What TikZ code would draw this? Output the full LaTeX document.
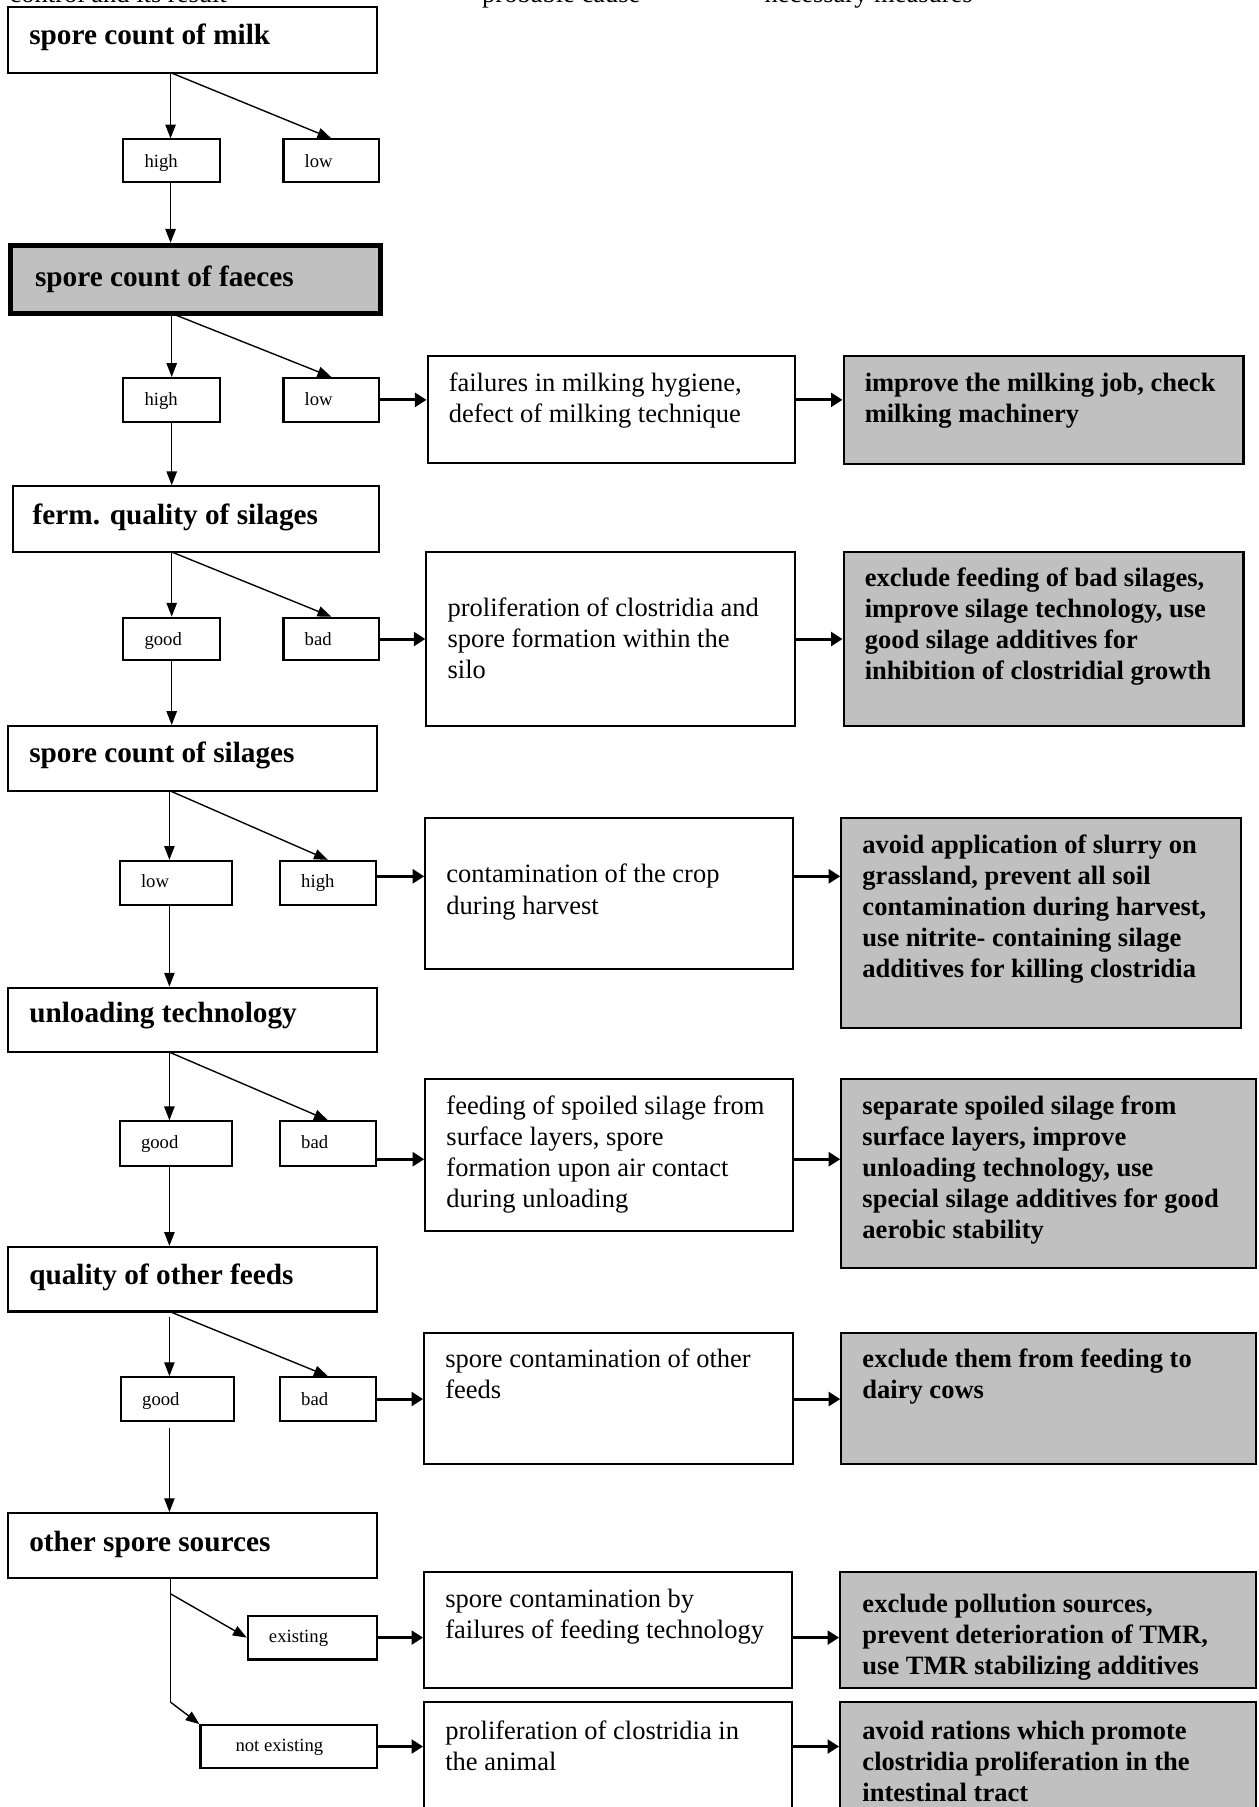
\documentclass[tikz,border=0pt]{standalone}
\usepackage{fontspec}
\setmainfont{Liberation Serif}
\usetikzlibrary{arrows.meta,fit}
\definecolor{boxgrey}{RGB}{192,192,192}
\tikzset{
 box/.style={draw, line width=0.9pt, inner sep=0pt, fill=white},
 gbox/.style={box, fill=boxgrey},
 thickbox/.style={draw, line width=2.3pt, inner sep=0pt, fill=boxgrey},
 hdr/.style={font=\fontsize{12.7}{15}\selectfont\bfseries, anchor=base west, inner sep=0pt},
 body/.style={font=\fontsize{11.5}{13.5}\selectfont, anchor=base west, inner sep=0pt, align=left},
 bbody/.style={font=\fontsize{11.5}{13.5}\selectfont\bfseries, anchor=base west, inner sep=0pt, align=left},
 lbl/.style={font=\fontsize{8.1}{10}\selectfont, anchor=base west, inner sep=0pt},
 arr/.style={line width=0.6pt, -{Triangle[length=6pt,width=4.5pt]}},
 harr/.style={line width=1.3pt, -{Triangle[length=5pt,width=6pt]}},
 conn/.style={line width=0.6pt},
 two lines/.style={yshift=-13.5pt},
 three lines/.style={yshift=-27pt},
 four lines/.style={yshift=-40.5pt},
 five lines/.style={yshift=-54pt},
}
\begin{document}
\begin{tikzpicture}[x=0.5pt,y=-0.5pt]
\useasboundingbox (0,0) rectangle (1092,1568);
% column headings
\node[body] (colA) at (8,2.6) {control and its result};
\node[body] (colB) at (418,2.6) {probable cause};
\node[body] (colC) at (663,2.6) {necessary measures};

% ---------- left column boxes ----------
\node[box, fit={(7,6) (327,63)}] (milk) {};
\node[hdr] at (25,39) {spore count of milk};
\node[thickbox, fit={(9,213) (330,272)}] (fae) {};
\node[hdr] at (30,248.7) {spore count of faeces};
\node[box, fit={(11,422) (329,479)}] (fer) {};
\node[hdr] at (28,455.4) {ferm. quality of silages};
\node[box, fit={(7,630) (327,686)}] (sil) {};
\node[hdr] at (25,662) {spore count of silages};
\node[box, fit={(7,857) (327,913)}] (unl) {};
\node[hdr] at (25,887.6) {unloading technology};
\node[box, fit={(7,1082) (327,1138)}] (qof) {};
\node[hdr] at (25,1114.6) {quality of other feeds};
\node[box, fit={(7,1313) (327,1369)}] (oth) {};
\node[hdr] at (25,1345.9) {other spore sources};

% ---------- small result boxes ----------
\node[box, fit={(107,121) (191,158)}] (hi1) {};
\node[lbl] at (125,145) {high};
\node[box, fit={(246,121) (329,158)}] (lo1) {};
\node[lbl] at (264,145) {low};

\node[box, fit={(107,328) (191,366)}] (hi2) {};
\node[lbl] at (125,352) {high};
\node[box, fit={(246,328) (329,366)}] (lo2) {};
\node[lbl] at (264,352) {low};

\node[box, fit={(107,536) (191,573)}] (go3) {};
\node[lbl] at (125,560) {good};
\node[box, fit={(246,536) (329,573)}] (ba3) {};
\node[lbl] at (264,560) {bad};

\node[box, fit={(104,747) (201,785)}] (lo4) {};
\node[lbl] at (122,770.5) {low};
\node[box, fit={(243,747) (326,785)}] (hi4) {};
\node[lbl] at (261,770.5) {high};

\node[box, fit={(104,973) (201,1012)}] (go5) {};
\node[lbl] at (122,997) {good};
\node[box, fit={(243,973) (326,1012)}] (ba5) {};
\node[lbl] at (261,997) {bad};

\node[box, fit={(105,1195) (203,1233)}] (go6) {};
\node[lbl] at (123,1220) {good};
\node[box, fit={(243,1195) (326,1233)}] (ba6) {};
\node[lbl] at (261,1220) {bad};

\node[box, fit={(215,1402) (327,1440)}] (ex) {};
\node[lbl] at (233,1425.4) {existing};
\node[box, fit={(174,1497) (327,1534)}] (ne) {};
\node[lbl] at (204,1519.4) {not existing};

% ---------- cause boxes ----------
\node[box, fit={(371,309) (690,402)}] (c2) {};
\node[body, two lines] at (389,339.7) {failures in milking hygiene,\\defect of milking technique};
\node[box, fit={(370,479) (690,630)}] (c3) {};
\node[body, three lines] at (388,534.9) {proliferation of clostridia and\\spore formation within the\\silo};
\node[box, fit={(369,710) (688,841)}] (c4) {};
\node[body, two lines] at (387,766.2) {contamination of the crop\\during harvest};
\node[box, fit={(369,936) (688,1068)}] (c5) {};
\node[body, four lines] at (387,967) {feeding of spoiled silage from\\surface layers, spore\\formation upon air contact\\during unloading};
\node[box, fit={(368,1157) (688,1270)}] (c6) {};
\node[body, two lines] at (386,1186.8) {spore contamination of other\\feeds};
\node[box, fit={(368,1364) (687,1465)}] (c7) {};
\node[body, two lines] at (386,1395) {spore contamination by\\failures of feeding technology};
\node[box, fit={(368,1477) (687,1590)}] (c8) {};
\node[body, two lines] at (386,1509) {proliferation of clostridia in\\the animal};

% ---------- measure boxes ----------
\node[gbox, fit={(732,309) (1079,403)}] (m2) {};
\node[bbody, two lines] at (750,339.7) {improve the milking job, check\\milking machinery};
\node[gbox, fit={(732,479) (1079,630)}] (m3) {};
\node[bbody, four lines] at (750,508.9) {exclude feeding of bad silages,\\improve silage technology, use\\good silage additives for\\inhibition of clostridial growth};
\node[gbox, fit={(730,710) (1077,892)}] (m4) {};
\node[bbody, five lines] at (748,740.2) {avoid application of slurry on\\grassland, prevent all soil\\contamination during harvest,\\use nitrite- containing silage\\additives for killing clostridia};
\node[gbox, fit={(730,936) (1090,1100)}] (m5) {};
\node[bbody, five lines] at (748,967) {separate spoiled silage from\\surface layers, improve\\unloading technology, use\\special silage additives for good\\aerobic stability};
\node[gbox, fit={(730,1157) (1090,1270)}] (m6) {};
\node[bbody, two lines] at (748,1186.8) {exclude them from feeding to\\dairy cows};
\node[gbox, fit={(729,1364) (1090,1465)}] (m7) {};
\node[bbody, three lines] at (748,1399) {exclude pollution sources,\\prevent deterioration of TMR,\\use TMR stabilizing additives};
\node[gbox, fit={(729,1477) (1090,1590)}] (m8) {};
\node[bbody, three lines] at (748,1509) {avoid rations which promote\\clostridia proliferation in the\\intestinal tract};

% ---------- connectors ----------
\coordinate (t1) at (148,63);
\draw[arr] (t1) -- (t1 |- hi1.north);
\draw[arr] (t1) -- (lo1.north);
\draw[arr] (hi1.south -| t1) -- (t1 |- fae.north);

\coordinate (t2) at (149,272);
\draw[arr] (t2) -- (t2 |- hi2.north);
\draw[arr] (t2) -- (lo2.north);
\draw[arr] (hi2.south -| t2) -- (t2 |- fer.north);
\draw[harr] (lo2.east) -- (lo2.east -| c2.west);
\draw[harr] (lo2.east -| c2.east) -- (lo2.east -| m2.west);

\coordinate (t3) at (149,479);
\draw[arr] (t3) -- (t3 |- go3.north);
\draw[arr] (t3) -- (ba3.north);
\draw[arr] (go3.south -| t3) -- (t3 |- sil.north);
\draw[harr] (ba3.east) -- (ba3.east -| c3.west);
\draw[harr] (ba3.east -| c3.east) -- (ba3.east -| m3.west);

\coordinate (t4) at (147,686);
\draw[arr] (t4) -- (t4 |- lo4.north);
\draw[arr] (t4) -- (hi4.north);
\draw[arr] (lo4.south -| t4) -- (t4 |- unl.north);
\coordinate (a4) at ([yshift=2.8pt]hi4.east);
\draw[harr] (a4) -- (a4 -| c4.west);
\draw[harr] (a4 -| c4.east) -- (a4 -| m4.west);

\coordinate (t5) at (147,913);
\draw[arr] (t5) -- (t5 |- go5.north);
\draw[arr] (t5) -- (ba5.north);
\draw[arr] (go5.south -| t5) -- (t5 |- qof.north);
\coordinate (a5) at ([yshift=-6.7pt]ba5.east);
\draw[harr] (a5) -- (a5 -| c5.west);
\draw[harr] (a5 -| c5.east) -- (a5 -| m5.west);

\coordinate (t6) at (147,1138);
\draw[arr, shorten <=2.5pt] (t6) -- (t6 |- go6.north);
\draw[arr] (t6) -- (ba6.north);
\draw[arr, shorten <=2.5pt] (go6.south -| t6) -- (t6 |- oth.north);
\draw[harr] (ba6.east) -- (ba6.east -| c6.west);
\draw[harr] (ba6.east -| c6.east) -- (ba6.east -| m6.west);

\coordinate (u1) at (148,1383);
\coordinate (u2) at (148,1477);
\draw[conn] (u1 |- oth.south) -- (u2);
\draw[arr] (u1) -- (ex.west);
\draw[arr] (u2) -- (ne.north west);
\draw[harr] (ex.east) -- (ex.east -| c7.west);
\draw[harr] (ex.east -| c7.east) -- (ex.east -| m7.west);
\draw[harr] (ne.east) -- (ne.east -| c8.west);
\draw[harr] (ne.east -| c8.east) -- (ne.east -| m8.west);
\end{tikzpicture}
\end{document}
